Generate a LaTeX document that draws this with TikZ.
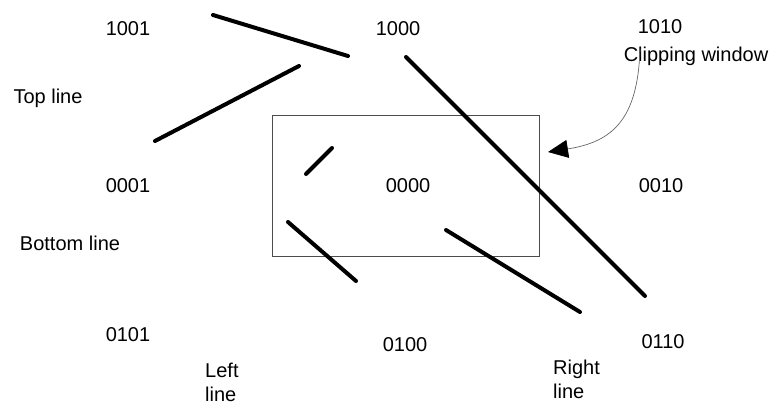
\documentclass[tikz,border=0pt]{standalone}
\usepackage{fontspec}
\setmainfont{Liberation Sans}
\usetikzlibrary{arrows.meta}
\begin{document}
\begin{tikzpicture}[x=1pt,y=-1pt,
  lbl/.style={inner sep=0pt,font=\fontsize{20}{24}\selectfont},
  seg/.style={line width=4pt,line cap=round,black},
  win/.style={draw=black!70,line width=0.8pt}]
\useasboundingbox (0,0) rectangle (778,410);
% clipping window
\draw[win] (272,115) rectangle (539,256);
\coordinate (winedge) at (548,152);
% region codes
\node[lbl] (c1001) at (128,29) {1001};
\node[lbl] (c1000) at (398,29) {1000};
\node[lbl] (c1010) at (660,27) {1010};
\node[lbl] (c0001) at (128,186) {0001};
\node[lbl] (c0000) at (408,186) {0000};
\node[lbl] (c0010) at (661,186) {0010};
\node[lbl] (c0101) at (128,335) {0101};
\node[lbl] (c0100) at (405,345) {0100};
\node[lbl] (c0110) at (663,342) {0110};
% labels
\node[lbl] (cw) at (696,56) {Clipping window};
\node[lbl] (top) at (48,98) {Top line};
\node[lbl] (bottom) at (70,243) {Bottom line};
\node[lbl,align=left,anchor=north west] (left) at (205,363) {Left\\line};
\node[lbl,align=left,anchor=north west] (right) at (553,360) {Right\\line};
% line segments
\coordinate (a1) at (213,15);  \coordinate (a2) at (348,56);
\coordinate (b1) at (155,141); \coordinate (b2) at (299,66);
\coordinate (d1) at (406,57);  \coordinate (d2) at (645,296);
\coordinate (e1) at (306,174); \coordinate (e2) at (332,148);
\coordinate (f1) at (288,222); \coordinate (f2) at (356,281);
\coordinate (g1) at (446,230); \coordinate (g2) at (580,312);
\draw[seg] (a1) -- (a2);
\draw[seg] (b1) -- (b2);
\draw[seg] (d1) -- (d2);
\draw[seg] (e1) -- (e2);
\draw[seg] (f1) -- (f2);
\draw[seg] (g1) -- (g2);
% arrow
\draw[black!60,line width=0.7pt,-{Triangle[length=20pt,width=18pt,fill=black,color=black]}]
  ([yshift=17pt]cw.south -| 640,0) .. controls (638,120) and (612,142) .. (winedge);
\end{tikzpicture}
\end{document}
